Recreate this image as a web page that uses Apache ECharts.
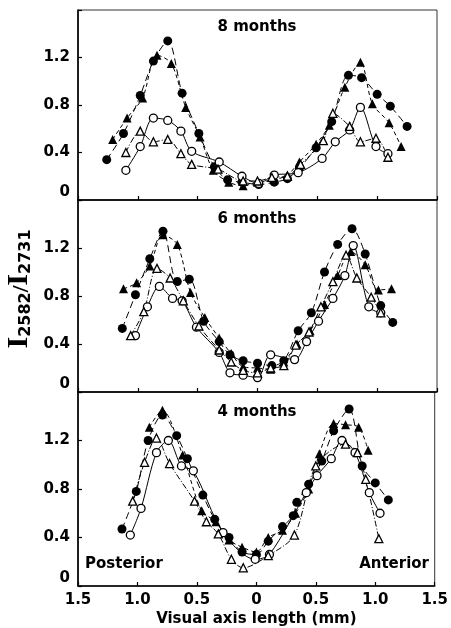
<!DOCTYPE html>
<html>
<head>
<meta charset="utf-8">
<script src="https://cdn.jsdelivr.net/npm/echarts@6/dist/echarts.min.js"></script>
<style>
html,body{margin:0;padding:0;background:#fff;}
#chart{width:451px;height:628px;}
</style>
</head>
<body>
<div id="chart"></div>
<script>
// ---- tick labels / titles ----
const xTickLabels = ['1.5', '1.0', '0.5', '0', '0.5', '1.0', '1.5'];
const yTickLabels = ['0', '0.4', '0.8', '1.2'];
const panelTitles = ['8 months', '6 months', '4 months'];
const xAxisTitle = 'Visual axis length (mm)';

// ---- 8 months (x: negative = posterior) ----
const m8FilledCircle = [[-1.26,0.34],[-1.12,0.56],[-0.98,0.88],[-0.87,1.17],[-0.75,1.34],[-0.63,0.90],[-0.49,0.56],[-0.36,0.28],[-0.25,0.17],[-0.13,0.15],[0.01,0.13],[0.14,0.15],[0.25,0.18],[0.35,0.27],[0.49,0.44],[0.62,0.66],[0.76,1.05],[0.87,1.03],[1.00,0.89],[1.11,0.79],[1.25,0.62]];
const m8FilledTriangle = [[-1.21,0.51],[-1.09,0.69],[-0.96,0.86],[-0.84,1.22],[-0.72,1.15],[-0.60,0.78],[-0.48,0.53],[-0.37,0.25],[-0.24,0.15],[-0.12,0.12],[0.00,0.15],[0.14,0.17],[0.25,0.21],[0.35,0.32],[0.49,0.47],[0.60,0.63],[0.73,0.95],[0.86,1.16],[0.96,0.81],[1.10,0.65],[1.20,0.45]];
const m8OpenCircle = [[-1.10,0.25],[-0.98,0.45],[-0.87,0.69],[-0.75,0.67],[-0.64,0.58],[-0.55,0.41],[-0.32,0.32],[-0.13,0.20],[0.01,0.14],[0.14,0.21],[0.34,0.23],[0.54,0.35],[0.65,0.49],[0.77,0.59],[0.86,0.78],[0.99,0.45],[1.09,0.39]];
const m8OpenTriangle = [[-1.10,0.40],[-0.98,0.58],[-0.87,0.49],[-0.75,0.51],[-0.64,0.39],[-0.55,0.30],[-0.33,0.26],[-0.12,0.16],[0.00,0.16],[0.12,0.19],[0.25,0.20],[0.36,0.30],[0.55,0.50],[0.63,0.73],[0.77,0.62],[0.86,0.49],[0.99,0.52],[1.09,0.36]];

// ---- 6 months ----
const m6FilledCircle = [[-1.13,0.53],[-1.02,0.81],[-0.90,1.11],[-0.79,1.34],[-0.67,0.92],[-0.57,0.94],[-0.45,0.59],[-0.32,0.42],[-0.23,0.31],[-0.12,0.26],[0.00,0.24],[0.12,0.22],[0.22,0.26],[0.34,0.51],[0.45,0.66],[0.56,1.00],[0.67,1.23],[0.79,1.36],[0.90,1.15],[1.03,0.72],[1.13,0.58]];
const m6FilledTriangle = [[-1.12,0.86],[-1.01,0.91],[-0.90,1.05],[-0.79,1.31],[-0.67,1.23],[-0.56,0.83],[-0.44,0.62],[-0.32,0.45],[-0.22,0.32],[-0.12,0.21],[0.00,0.20],[0.11,0.19],[0.22,0.25],[0.33,0.40],[0.44,0.51],[0.56,0.73],[0.67,0.97],[0.78,1.17],[0.90,1.06],[1.01,0.85],[1.12,0.86]];
const m6OpenCircle = [[-1.02,0.47],[-0.92,0.71],[-0.82,0.88],[-0.71,0.78],[-0.63,0.76],[-0.51,0.54],[-0.32,0.33],[-0.23,0.16],[-0.12,0.14],[0.00,0.12],[0.11,0.31],[0.31,0.27],[0.41,0.42],[0.51,0.59],[0.63,0.78],[0.73,0.97],[0.80,1.22],[0.93,0.71],[1.03,0.66]];
const m6OpenTriangle = [[-1.06,0.47],[-0.95,0.67],[-0.84,1.03],[-0.73,0.95],[-0.62,0.76],[-0.49,0.55],[-0.32,0.35],[-0.22,0.25],[-0.12,0.18],[0.00,0.16],[0.11,0.20],[0.22,0.22],[0.32,0.39],[0.43,0.50],[0.53,0.71],[0.63,0.92],[0.74,1.14],[0.83,0.95],[0.95,0.79],[1.03,0.66]];

// ---- 4 months ----
const m4FilledCircle = [[-1.13,0.47],[-1.01,0.78],[-0.91,1.20],[-0.79,1.41],[-0.67,1.24],[-0.58,1.05],[-0.45,0.75],[-0.35,0.55],[-0.23,0.40],[-0.12,0.28],[0.00,0.26],[0.10,0.37],[0.22,0.49],[0.31,0.58],[0.34,0.69],[0.44,0.84],[0.55,1.03],[0.65,1.28],[0.78,1.46],[0.89,0.99],[1.00,0.85],[1.11,0.71]];
const m4FilledTriangle = [[-0.90,1.31],[-0.79,1.45],[-0.62,1.08],[-0.46,0.62],[-0.34,0.53],[-0.23,0.38],[-0.12,0.32],[0.00,0.28],[0.10,0.40],[0.22,0.46],[0.33,0.60],[0.44,0.80],[0.53,1.09],[0.65,1.34],[0.75,1.33],[0.86,1.31],[0.94,1.12]];
const m4OpenCircle = [[-1.06,0.42],[-0.97,0.64],[-0.84,1.10],[-0.74,1.20],[-0.63,0.99],[-0.53,0.95],[-0.28,0.44],[-0.01,0.22],[0.11,0.26],[0.42,0.77],[0.51,0.91],[0.63,1.05],[0.72,1.20],[0.83,1.10],[0.95,0.77],[1.04,0.60]];
const m4OpenTriangle = [[-1.04,0.70],[-0.94,1.02],[-0.84,1.22],[-0.73,1.01],[-0.52,0.70],[-0.42,0.53],[-0.32,0.43],[-0.21,0.22],[-0.11,0.15],[0.10,0.25],[0.32,0.42],[0.50,0.99],[0.75,1.17],[0.85,1.10],[0.92,0.88],[1.03,0.39]];

const panels = [
  [m8FilledCircle, m8FilledTriangle, m8OpenCircle, m8OpenTriangle],
  [m6FilledCircle, m6FilledTriangle, m6OpenCircle, m6OpenTriangle],
  [m4FilledCircle, m4FilledTriangle, m4OpenCircle, m4OpenTriangle]
];

const FONT = 'DejaVu Sans';
const gridTops = [10, 200, 392];
const gridHeights = [190, 192, 195];

const kinds = [
  {symbol: 'circle', size: 9, fill: '#000', dash: [7, 4]},
  {symbol: 'triangle', size: 9, fill: '#000', dash: [4, 3]},
  {symbol: 'circle', size: 8, fill: '#fff', dash: 'solid'},
  {symbol: 'triangle', size: 8, fill: '#fff', dash: [6, 2, 1, 2]}
];

const grids = [], xAxes = [], yAxes = [], series = [];
for (let g = 0; g < 3; g++) {
  grids.push({left: 78, right: 14, top: gridTops[g], height: gridHeights[g], show: true, borderColor: '#333', borderWidth: 1, backgroundColor: 'transparent'});
  xAxes.push({
    type: 'value', gridIndex: g, min: -1.5, max: 1.5, interval: 0.5,
    axisLine: {show: true, onZero: false, lineStyle: {color: '#000', width: 1.6}},
    axisTick: {show: true, inside: true, length: 4, lineStyle: {color: '#000', width: 1.2}},
    splitLine: {show: false},
    axisLabel: {
      show: g === 2, margin: 7, color: '#000', fontFamily: FONT, fontWeight: 'bold', fontSize: 15,
      formatter: v => xTickLabels[Math.round((v + 1.5) / 0.5)]
    },
    name: g === 2 ? xAxisTitle : '', nameLocation: 'middle', nameGap: 26,
    nameTextStyle: {color: '#000', fontFamily: FONT, fontWeight: 'bold', fontSize: 15}
  });
  yAxes.push({
    type: 'value', gridIndex: g, min: 0, max: 1.6, interval: 0.4,
    axisLine: {show: true, onZero: false, lineStyle: {color: '#000', width: 1.6}},
    axisTick: {show: true, inside: true, length: 4, lineStyle: {color: '#000', width: 1.2}},
    splitLine: {show: false},
    axisLabel: {
      margin: 8, color: '#000', fontFamily: FONT, fontWeight: 'bold', fontSize: 15,
      verticalAlignMinLabel: 'bottom',
      formatter: v => { const i = Math.round(v / 0.4); return i < yTickLabels.length ? yTickLabels[i] : ''; }
    }
  });
  panels[g].forEach((data, k) => {
    const kd = kinds[k];
    series.push({
      type: 'line', xAxisIndex: g, yAxisIndex: g, data: data,
      smooth: 0.3, symbol: kd.symbol, symbolSize: kd.size, showSymbol: true,
      itemStyle: {color: kd.fill, borderColor: '#000', borderWidth: kd.fill === '#fff' ? 1.3 : 0},
      lineStyle: {color: '#000', width: 1, type: kd.dash},
      z: k >= 2 ? 3 : 2,
      silent: true
    });
  });
}

const titleY = [27, 219, 412];
const graphics = panelTitles.map((t, i) => ({
  type: 'text', x: 257, y: titleY[i],
  style: {text: t, align: 'center', verticalAlign: 'middle', fill: '#000', font: 'bold 15px "DejaVu Sans"'}
}));
graphics.push({type: 'text', x: 85, y: 564, style: {text: 'Posterior', align: 'left', verticalAlign: 'middle', fill: '#000', font: 'bold 15px "DejaVu Sans"'}});
graphics.push({type: 'text', x: 429, y: 564, style: {text: 'Anterior', align: 'right', verticalAlign: 'middle', fill: '#000', font: 'bold 15px "DejaVu Sans"'}});
graphics.push({
  type: 'text', x: 34, y: 289, rotation: Math.PI / 2,
  style: {
    text: '{a|I}{b|2582}{c|/}{a|I}{b|2731}', align: 'center', verticalAlign: 'bottom', fill: '#000',
    rich: {
      a: {fontFamily: 'Liberation Serif', fontWeight: 'bold', fontSize: 30, fill: '#000', verticalAlign: 'bottom'},
      b: {fontFamily: FONT, fontWeight: 'bold', fontSize: 16, fill: '#000', verticalAlign: 'bottom'},
      c: {fontFamily: 'Liberation Serif', fontWeight: 'bold', fontSize: 24, fill: '#000', verticalAlign: 'bottom'}
    }
  }
});

const chart = echarts.init(document.getElementById('chart'), null, {renderer: 'canvas'});
chart.setOption({
  animation: false,
  backgroundColor: '#fff',
  grid: grids, xAxis: xAxes, yAxis: yAxes, series: series,
  graphic: graphics
});
</script>
</body>
</html>
